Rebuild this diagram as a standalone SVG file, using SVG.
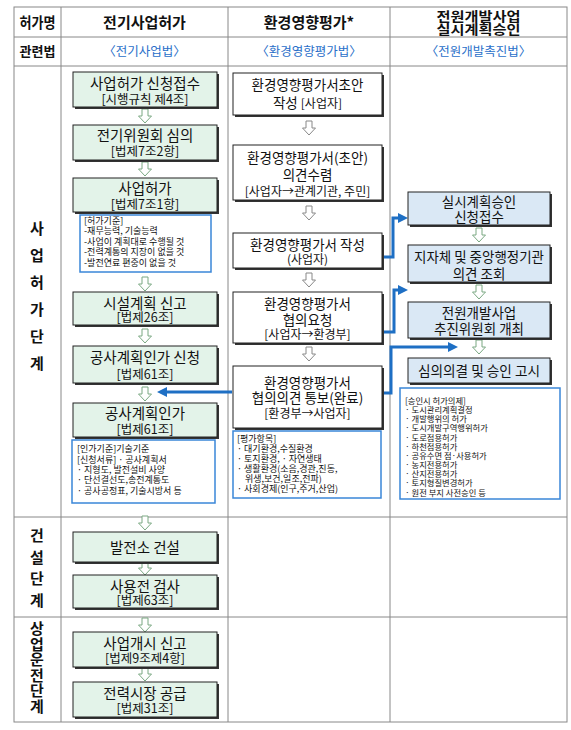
<svg xmlns="http://www.w3.org/2000/svg" xmlns:xlink="http://www.w3.org/1999/xlink" width="571" height="730" viewBox="0 0 571 730">
<style>
text{font-family:"Noto Sans CJK KR","Noto Sans",sans-serif;fill:#111;}
.grid{stroke:#888;stroke-width:1;fill:none;}
.hd{font-size:15px;font-weight:bold;text-anchor:middle;}
.law{font-size:12.5px;text-anchor:middle;fill:#2a6fc9;}
.stg{font-size:15px;font-weight:bold;text-anchor:middle;}
.sh{fill:#333;}
.bl{fill:#e3f3e9;stroke:#222;stroke-width:1;}
.bm{fill:#ffffff;stroke:#222;stroke-width:1;}
.br{fill:#dae8f5;stroke:#222;stroke-width:1;}
.info{fill:#fff;stroke:#3a86d8;stroke-width:1.5;}
.t1{font-size:14.5px;text-anchor:middle;}
.t2{font-size:12.5px;text-anchor:middle;}
.tm{font-size:13.5px;text-anchor:middle;}
.tms{font-size:12px;text-anchor:middle;}
.sm{font-size:9px;}
.xs{font-size:8.3px;}
.conn{fill:none;stroke:#1e6fc4;stroke-width:3;}
.ha{fill:#fff;stroke:#7aa882;stroke-width:1;}
.hm{fill:#fff;stroke:#888;stroke-width:1;}
</style>
<defs>
<path id="ah" d="M-3,0 h6 v7 h3.5 l-6.5,7 l-6.5,-7 h3.5 z"/>
<marker id="mk" markerUnits="userSpaceOnUse" markerWidth="10" markerHeight="10" refX="4" refY="5" orient="auto">
<path d="M0,0 L10,5 L0,10 z" fill="#1e6fc4"/>
</marker>
</defs>

<g id="table">
<rect class="grid" x="14" y="7" width="553" height="715"/>
<line class="grid" x1="14" y1="37" x2="567" y2="37"/>
<line class="grid" x1="14" y1="66" x2="567" y2="66"/>
<line class="grid" x1="14" y1="517" x2="567" y2="517"/>
<line class="grid" x1="14" y1="617" x2="567" y2="617"/>
<line class="grid" x1="61" y1="7" x2="61" y2="722"/>
<line class="grid" x1="228" y1="7" x2="228" y2="722"/>
<line class="grid" x1="390" y1="7" x2="390" y2="722"/>
</g>

<g id="header">
<text class="hd" x="37.5" y="27.5" textLength="36" lengthAdjust="spacingAndGlyphs">허가명</text>
<text class="hd" x="144.5" y="27.5">전기사업허가</text>
<text class="hd" x="309" y="27.5">환경영향평가*</text>
<text class="hd" x="478.5" y="20.5" style="font-size:13px" textLength="84" lengthAdjust="spacingAndGlyphs">전원개발사업</text>
<text class="hd" x="478.5" y="33.5" style="font-size:13px" textLength="84" lengthAdjust="spacingAndGlyphs">실시계획승인</text>
<text class="hd" x="37.5" y="56" style="font-size:13px" textLength="36" lengthAdjust="spacingAndGlyphs">관련법</text>
<text class="law" x="144.5" y="56">〈전기사업법〉</text>
<text class="law" x="309" y="56">〈환경영향평가법〉</text>
<text class="law" x="478.5" y="56">〈전원개발촉진법〉</text>
</g>

<g id="stages">
<text class="stg" x="37" y="233.5">사</text>
<text class="stg" x="37" y="260.5">업</text>
<text class="stg" x="37" y="287.5">허</text>
<text class="stg" x="37" y="314.5">가</text>
<text class="stg" x="37" y="341.5">단</text>
<text class="stg" x="37" y="368.5">계</text>
<text class="stg" x="37" y="540.5">건</text>
<text class="stg" x="37" y="562.5">설</text>
<text class="stg" x="37" y="583.5">단</text>
<text class="stg" x="37" y="605.5">계</text>
<text class="stg" x="37" y="633.5">상</text>
<text class="stg" x="37" y="649.5">업</text>
<text class="stg" x="37" y="665">운</text>
<text class="stg" x="37" y="680.5">전</text>
<text class="stg" x="37" y="696">단</text>
<text class="stg" x="37" y="711.5">계</text>
</g>

<g id="connectors">
<use href="#ah" class="ha" x="145" y="109"/>
<use href="#ah" class="ha" x="145" y="162"/>
<use href="#ah" class="ha" x="145" y="277"/>
<use href="#ah" class="ha" x="145" y="329"/>
<use href="#ah" class="ha" x="145" y="387"/>
<use href="#ah" class="ha" x="145" y="516"/>
<use href="#ah" class="ha" x="145" y="561"/>
<use href="#ah" class="ha" x="145" y="618"/>
<use href="#ah" class="ha" x="145" y="667"/>
<use href="#ah" class="hm" x="309" y="121"/>
<use href="#ah" class="hm" x="309" y="206"/>
<use href="#ah" class="hm" x="309" y="273"/>
<use href="#ah" class="hm" x="309" y="347"/>
<use href="#ah" class="ha" x="479" y="228"/>
<use href="#ah" class="ha" x="479" y="285"/>
<use href="#ah" class="ha" x="479" y="340"/>
<path class="conn" d="M382,257 H393 V218 H402" marker-end="url(#mk)"/>
<path class="conn" d="M382,332 H394 V290 H402" marker-end="url(#mk)"/>
<path class="conn" d="M382,393 H391 V347 H452" marker-end="url(#mk)"/>
<path class="conn" d="M232,392 H163" marker-end="url(#mk)"/>
</g>

<g id="b1"><rect class="sh" x="75" y="74" width="144" height="35"/><rect class="bl" x="73" y="72" width="144" height="35"/>
<text class="t1" x="145" y="88.5">사업허가 신청접수</text><text class="t2" x="145" y="103.5">[시행규칙 제4조]</text></g>
<g id="b2"><rect class="sh" x="75" y="127" width="144" height="35"/><rect class="bl" x="73" y="125" width="144" height="35"/>
<text class="t1" x="145" y="140.5">전기위원회 심의</text><text class="t2" x="145" y="155.5">[법제7조2항]</text></g>
<g id="b3"><rect class="sh" x="75" y="180" width="144" height="34"/><rect class="bl" x="73" y="178" width="144" height="34"/>
<text class="t1" x="145" y="193.5">사업허가</text><text class="t2" x="145" y="208.5">[법제7조1항]</text></g>
<g id="info1"><rect class="info" x="80" y="215" width="131" height="57"/>
<text class="sm" x="84" y="224">[허가기준]</text>
<text class="sm" x="84" y="234">-재무능력, 기술능력</text>
<text class="sm" x="84" y="244.5">-사업이 계획대로 수행될 것</text>
<text class="sm" x="84" y="255">-전력계통의 지장이 없을 것</text>
<text class="sm" x="84" y="265.5">-발전연료 편중이 없을 것</text></g>
<g id="b4"><rect class="sh" x="75" y="294" width="144" height="33"/><rect class="bl" x="73" y="292" width="144" height="33"/>
<text class="t1" x="145" y="309">시설계획 신고</text><text class="t2" x="145" y="321.5">[법제26조]</text></g>
<g id="b5"><rect class="sh" x="75" y="348" width="144" height="37"/><rect class="bl" x="73" y="346" width="144" height="37"/>
<text class="t1" x="145" y="363">공사계획인가 신청</text><text class="t2" x="145" y="378.5">[법제61조]</text></g>
<g id="b6"><rect class="sh" x="75" y="405" width="144" height="34"/><rect class="bl" x="73" y="403" width="144" height="34"/>
<text class="t1" x="145" y="418.5">공사계획인가</text><text class="t2" x="145" y="433.5">[법제61조]</text></g>
<g id="info2"><rect class="info" x="72" y="440" width="143" height="63"/>
<text class="sm" x="77" y="452">[인가기준]기술기준</text>
<text class="sm" x="77" y="462.5">[신청서류] · 공사계획서</text>
<text class="sm" x="77" y="473"> · 지형도, 발전설비 사양</text>
<text class="sm" x="77" y="483"> · 단선결선도,송전계통도</text>
<text class="sm" x="77" y="493.5"> · 공사공정표, 기술시방서 등</text></g>
<g id="b7"><rect class="sh" x="75" y="534" width="144" height="30"/><rect class="bl" x="73" y="532" width="144" height="30"/>
<text class="t1" x="145" y="552.5">발전소 건설</text></g>
<g id="b8"><rect class="sh" x="75" y="577" width="144" height="33"/><rect class="bl" x="73" y="575" width="144" height="33"/>
<text class="t1" x="145" y="591.5">사용전 검사</text><text class="t2" x="145" y="605">[법제63조]</text></g>
<g id="b9"><rect class="sh" x="75" y="634" width="144" height="35"/><rect class="bl" x="73" y="632" width="144" height="35"/>
<text class="t1" x="145" y="648.5">사업개시 신고</text><text class="t2" x="145" y="663">[법제9조제4항]</text></g>
<g id="b10"><rect class="sh" x="75" y="684" width="144" height="35"/><rect class="bl" x="73" y="682" width="144" height="35"/>
<text class="t1" x="145" y="698.5">전력시장 공급</text><text class="t2" x="145" y="713">[법제31조]</text></g>

<g id="m1"><rect class="sh" x="235" y="75" width="149" height="42"/><rect class="bm" x="233" y="73" width="149" height="42"/>
<text class="tm" x="307.5" y="90">환경영향평가서초안</text><text class="tm" x="307.5" y="108">작성 <tspan style="font-size:12px">[사업자]</tspan></text></g>
<g id="m2"><rect class="sh" x="235" y="147" width="149" height="55"/><rect class="bm" x="233" y="145" width="149" height="55"/>
<text class="tm" x="307.5" y="163">환경영향평가서(초안)</text><text class="tm" x="307.5" y="180">의견수렴</text><text class="tms" x="307.5" y="196">[사업자→관계기관, 주민]</text></g>
<g id="m3"><rect class="sh" x="235" y="235" width="149" height="35"/><rect class="bm" x="233" y="233" width="149" height="35"/>
<text class="tm" x="307.5" y="250">환경영향평가서 작성</text><text class="tms" x="307.5" y="264">(사업자)</text></g>
<g id="m4"><rect class="sh" x="235" y="294" width="149" height="51"/><rect class="bm" x="233" y="292" width="149" height="51"/>
<text class="tm" x="307.5" y="309">환경영향평가서</text><text class="tm" x="307.5" y="325">협의요청</text><text class="tms" x="307.5" y="339">[사업자→환경부]</text></g>
<g id="m5"><rect class="sh" x="235" y="368" width="149" height="62"/><rect class="bm" x="233" y="366" width="149" height="62"/>
<text class="tm" x="307.5" y="388">환경영향평가서</text><text class="tm" x="307.5" y="403">협의의견 통보(완료)</text><text class="tms" x="307.5" y="418">[환경부→사업자]</text></g>
<g id="info3"><rect class="info" x="233" y="431" width="148" height="67"/>
<text class="sm" x="237" y="442">[평가항목]</text>
<text class="sm" x="237" y="452"> · 대기환경,수질환경</text>
<text class="sm" x="237" y="462"> · 토지환경, · 자연생태</text>
<text class="sm" x="237" y="472"> · 생활환경(소음,경관,진동,</text>
<text class="sm" x="245" y="481.5">위생,보건,일조,전파)</text>
<text class="sm" x="237" y="491.5"> · 사회경제(인구,주거,산업)</text></g>

<g id="r1"><rect class="sh" x="410" y="194" width="142" height="33"/><rect class="br" x="408" y="192" width="142" height="33"/>
<text class="tm" x="479" y="207">실시계획승인</text><text class="tm" x="479" y="222">신청접수</text></g>
<g id="r2"><rect class="sh" x="410" y="247" width="142" height="37"/><rect class="br" x="408" y="245" width="142" height="37"/>
<text class="tm" x="479" y="262" textLength="130" lengthAdjust="spacingAndGlyphs">지자체 및 중앙행정기관</text><text class="tm" x="479" y="279">의견 조회</text></g>
<g id="r3"><rect class="sh" x="410" y="304" width="142" height="36"/><rect class="br" x="408" y="302" width="142" height="36"/>
<text class="tm" x="479" y="318">전원개발사업</text><text class="tm" x="479" y="334">추진위원회 개최</text></g>
<g id="r4"><rect class="sh" x="410" y="360" width="142" height="25"/><rect class="br" x="408" y="358" width="142" height="25"/>
<text class="tm" x="479" y="376" textLength="122" lengthAdjust="spacingAndGlyphs">심의의결 및 승인 고시</text></g>
<g id="info4"><rect class="info" x="400" y="388" width="160" height="111"/>
<text class="xs" x="405" y="404">[승인시 허가의제]</text>
<text class="xs" x="405" y="413"> · 도시관리계획결정</text>
<text class="xs" x="405" y="422"> · 개발행위의 허가</text>
<text class="xs" x="405" y="431"> · 도시개발구역행위허가</text>
<text class="xs" x="405" y="440.5"> · 도로점용허가</text>
<text class="xs" x="405" y="449.5"> · 하천점용허가</text>
<text class="xs" x="405" y="459"> · 공유수면 점·사용허가</text>
<text class="xs" x="405" y="468"> · 농지전용허가</text>
<text class="xs" x="405" y="477"> · 산지전용허가</text>
<text class="xs" x="405" y="486"> · 토지형질변경허가</text>
<text class="xs" x="405" y="495.5"> · 원전 부지 사전승인 등</text></g>
</svg>
